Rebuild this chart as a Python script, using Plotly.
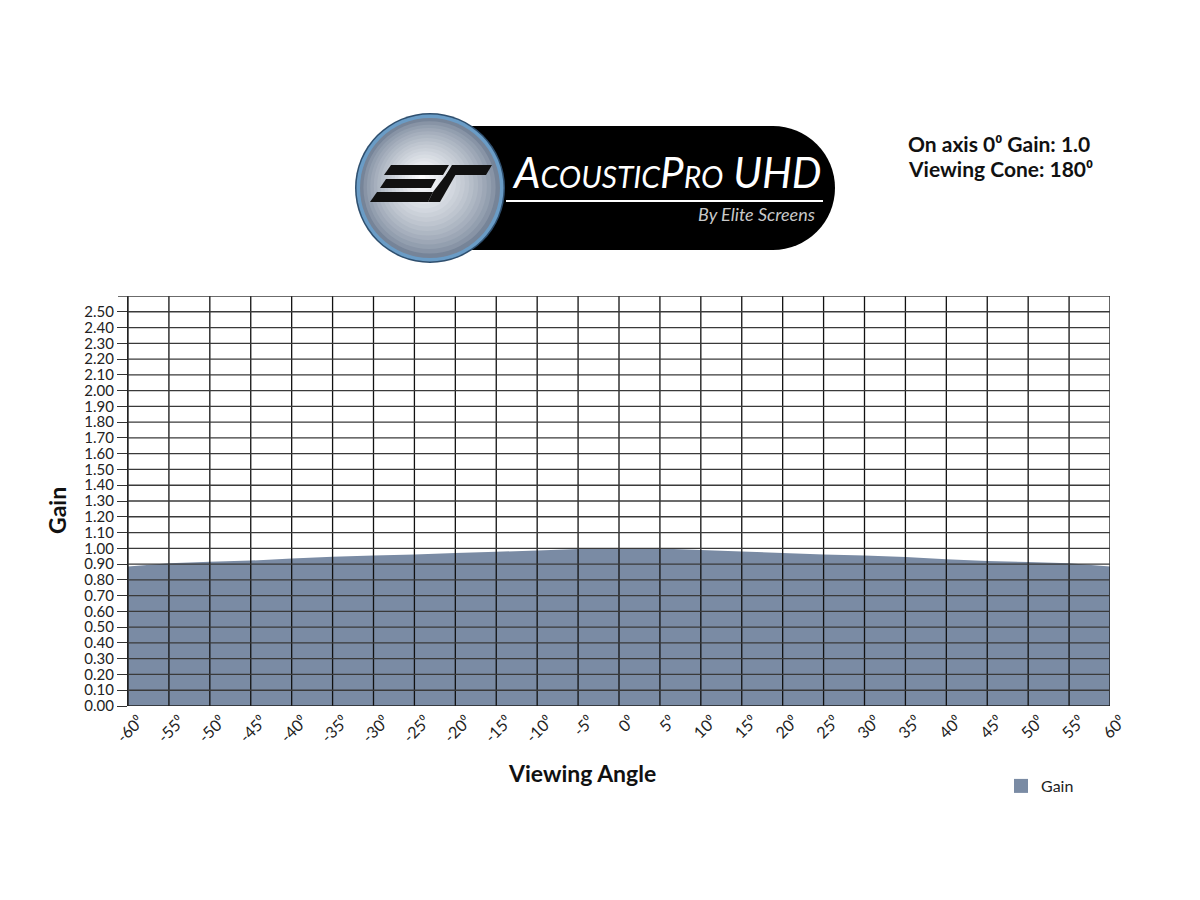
import plotly.graph_objects as go

# ---------------- data ----------------
angles = list(range(-60, 65, 5))
gain = [0.885, 0.905, 0.915, 0.922, 0.935, 0.946, 0.954, 0.96, 0.97, 0.978, 0.986, 0.995, 1.0,
        0.998, 0.99, 0.98, 0.97, 0.96, 0.955, 0.945, 0.93, 0.92, 0.913, 0.905, 0.885]
x_tick_labels = [f"{a}\u2070" for a in angles]
y_ticks = [round(i * 0.1, 2) for i in range(26)]
y_tick_labels = [f"{v:.2f}" for v in y_ticks]
y_top = 2.6

FILL = "#7a8ba4"
FONT = "Lato"

W, H = 1200, 900
OFF = 8  # page body margin
# target plot-area edges in page pixels
L, R, T, B = 128, 1110, 296, 706


def px(x):
    return (x - L) / (R - L)


def py(y):
    return (B - y) / (B - T)


fig = go.Figure()
fig.add_trace(go.Scatter(x=angles, y=gain, mode="none", fill="tozeroy",
                         fillcolor=FILL, showlegend=False, hoverinfo="skip"))
fig.add_trace(go.Scatter(x=[None], y=[None], mode="markers", name="Gain",
                         marker=dict(symbol="square", size=14, color=FILL)))

shapes = []
# grid drawn above the area
for a in angles:
    shapes.append(dict(type="line", xref="x", yref="y", x0=a, x1=a, y0=0, y1=y_top,
                       line=dict(color="#111111", width=1.3), layer="above"))
for v in y_ticks[1:]:
    shapes.append(dict(type="line", xref="x", yref="y", x0=-60, x1=60, y0=v, y1=v,
                       line=dict(color="#3a3a3a", width=1.3), layer="above"))
# top border with its tick
shapes.append(dict(type="line", xref="paper", yref="y", x0=px(118), x1=1, y0=y_top, y1=y_top,
                   line=dict(color="#3a3a3a", width=1.3), layer="above"))
shapes.append(dict(type="line", xref="x", yref="y", x0=-60, x1=60, y0=0, y1=0,
                   line=dict(color="#222222", width=1.3), layer="above"))

# ---------------- logo ----------------
def path(pts):
    return "M " + " L ".join(f"{px(x):.5f},{py(y):.5f}" for x, y in pts) + " Z"

# black pill
shapes.append(dict(type="rect", xref="paper", yref="paper", x0=px(460), x1=px(773),
                   y0=py(250), y1=py(126), fillcolor="black", line=dict(width=0), layer="above"))
shapes.append(dict(type="circle", xref="paper", yref="paper", x0=px(711), x1=px(835),
                   y0=py(250), y1=py(126), fillcolor="black", line=dict(width=0), layer="above"))
# circle with gradient
cx, cy, r = 430, 188, 75
shapes.append(dict(type="circle", xref="paper", yref="paper", x0=px(cx - r), x1=px(cx + r),
                   y0=py(cy + r), y1=py(cy - r), fillcolor="#2f4f6e", line=dict(width=0), layer="above"))
r2 = r - 1.5
shapes.append(dict(type="circle", xref="paper", yref="paper", x0=px(cx - r2), x1=px(cx + r2),
                   y0=py(cy + r2), y1=py(cy - r2), fillcolor="#6a9cc6", line=dict(width=0), layer="above"))
n = 18
start = (118, 132, 152)
end = (252, 253, 255)
for i in range(n):
    t = i / (n - 1)
    rr = (r - 5) * (1 - 0.95 * t)
    col = tuple(int(start[k] + (end[k] - start[k]) * t ** 0.7) for k in range(3))
    ccx = cx - 8 * t
    ccy = cy - 10 * t
    shapes.append(dict(type="circle", xref="paper", yref="paper", x0=px(ccx - rr), x1=px(ccx + rr),
                       y0=py(ccy + rr), y1=py(ccy - rr), fillcolor="rgb(%d,%d,%d)" % col,
                       line=dict(width=0), layer="above"))
# ES glyph
glyph = [
    [(391, 165), (449, 165), (443, 175), (384, 175)],
    [(386, 179), (436, 179), (431, 188), (380, 188)],
    [(377, 192), (433, 192), (428, 202), (370, 202)],
    [(428, 202), (433, 192), (452, 167), (460, 167), (440, 202)],
    [(452, 165), (492, 165), (486, 175), (446, 175)],
]
for g in glyph:
    shapes.append(dict(type="path", xref="paper", yref="paper", path=path(g),
                       fillcolor="#111111", line=dict(width=0), layer="above"))
# underline in logo
shapes.append(dict(type="line", xref="paper", yref="paper", x0=px(506), x1=px(823),
                   y0=py(201), y1=py(201), line=dict(color="white", width=2), layer="above"))

annotations = [
    dict(text="<i>A<span style='font-size:30px'>COUSTIC</span>P<span style='font-size:30px'>RO</span> UHD</i>",
         xref="paper", yref="paper", x=px(510), y=py(199), xanchor="left", yanchor="bottom",
         showarrow=False, font=dict(family="Lato", size=42, color="white")),
    dict(text="<i>By Elite Screens</i>", xref="paper", yref="paper", x=px(817), y=py(214),
         xanchor="right", yanchor="middle", showarrow=False,
         font=dict(family="Lato", size=18, color="#c8c8c8")),
    dict(text="<b>On axis 0\u2070 Gain: 1.0</b>",
         xref="paper", yref="paper", x=px(906), y=py(144), xanchor="left", yanchor="middle",
         align="left", showarrow=False, font=dict(family=FONT, size=21, color="#111111")),
    dict(text="<b>Viewing Cone: 180\u2070</b>",
         xref="paper", yref="paper", x=px(906), y=py(169), xanchor="left", yanchor="middle",
         align="left", showarrow=False, font=dict(family=FONT, size=21, color="#111111")),
    dict(text="<b>Gain</b>", xref="paper", yref="paper", x=px(57), y=py(511), textangle=-90,
         xanchor="center", yanchor="middle", showarrow=False,
         font=dict(family=FONT, size=23, color="#111111")),
    dict(text="<b>Viewing Angle</b>", xref="paper", yref="paper", x=px(582), y=py(773),
         xanchor="center", yanchor="middle", showarrow=False,
         font=dict(family=FONT, size=23, color="#111111")),
]

fig.update_layout(
    width=W, height=H,
    margin=dict(l=L - OFF, r=W - (R - OFF), t=T - OFF, b=H - (B - OFF), pad=0),
    paper_bgcolor="white", plot_bgcolor="white",
    shapes=shapes, annotations=annotations,
    showlegend=True,
    legend=dict(x=px(1001), y=py(786), xanchor="left", yanchor="middle",
                font=dict(family=FONT, size=16, color="#222222"),
                bgcolor="rgba(0,0,0,0)", itemwidth=30),
    xaxis=dict(range=[-60, 60], tickmode="array", tickvals=angles, ticktext=x_tick_labels,
               tickangle=-45, showgrid=False, zeroline=False, showline=False,
               ticks="", ticklabelshift=11, ticklabelstandoff=2,
               tickfont=dict(family=FONT, size=16, color="#222222"), fixedrange=True),
    yaxis=dict(range=[0, y_top], tickmode="array", tickvals=y_ticks, ticktext=y_tick_labels,
               showgrid=False, zeroline=False, showline=True, linecolor="#222222", linewidth=1,
               ticks="outside", ticklen=10, tickcolor="#333333", tickwidth=1.2,
               tickfont=dict(family=FONT, size=15, color="#222222"), fixedrange=True),
)

fig.write_html("out.html")
